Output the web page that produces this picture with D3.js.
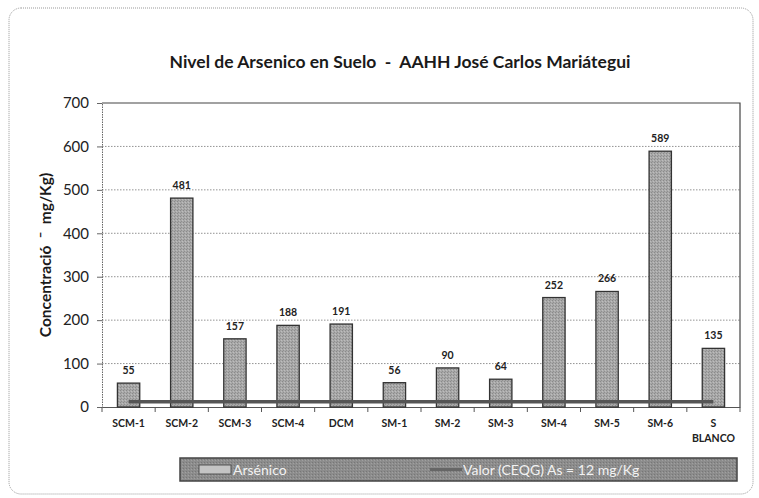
<!DOCTYPE html>
<html>
<head>
<meta charset="utf-8">
<script src="https://cdn.jsdelivr.net/npm/d3@7"></script>
<style>
  body { margin: 0; background: #fff; }
  text { font-family: Lato, "Open Sans", sans-serif; white-space: pre; }
</style>
</head>
<body>
<svg id="chart" width="759" height="498"></svg>
<script>
// muestras y concentraciones (mg/Kg)
let samples = ['SCM-1', 'SCM-2', 'SCM-3', 'SCM-4', 'DCM', 'SM-1', 'SM-2', 'SM-3', 'SM-4', 'SM-5', 'SM-6', 'S BLANCO'];
let arsenic = [55, 481, 157, 188, 191, 56, 90, 64, 252, 266, 589, 135];
let limitValue = 12;
let yTicks = [0, 100, 200, 300, 400, 500, 600, 700];

let svg = d3.select('#chart');

// outer dotted frame
svg.append('rect')
  .attr('x', 9).attr('y', 8).attr('width', 744).attr('height', 486)
  .attr('rx', 12)
  .attr('fill', 'none')
  .attr('stroke', '#999')
  .attr('stroke-dasharray', '1,1');

let x = d3.scaleBand()
  .domain(samples)
  .range([102, 740])
  .paddingInner(0.58)
  .paddingOuter(0.29);

let y = d3.scaleLinear()
  .domain([0, 700])
  .range([407, 103]);

// title
svg.append('text')
  .attr('x', 400).attr('y', 68)
  .attr('text-anchor', 'middle')
  .style('font-size', '17.5px')
  .style('font-weight', 'bold')
  .attr('fill', '#1a1a1a')
  .text('Nivel de Arsenico en Suelo  -  AAHH José Carlos Mariátegui');

// gridlines
svg.append('g').selectAll('line')
  .data(yTicks.filter(d => d > 0 && d < 700))
  .join('line')
  .attr('x1', 102).attr('x2', 740)
  .attr('y1', d => y(d)).attr('y2', d => y(d))
  .attr('stroke', '#777')
  .attr('stroke-width', 0.8)
  .attr('stroke-dasharray', '1.5,1.5');

// plot frame top + right
svg.append('path')
  .attr('d', `M102,${y(700)}H740V${y(0)}`)
  .attr('fill', 'none')
  .attr('stroke', '#444')
  .attr('stroke-width', 1.2);

// y axis
let yAxis = d3.axisLeft(y).tickValues(yTicks).tickSize(5).tickPadding(8);
let gy = svg.append('g').attr('transform', 'translate(102,0)').call(yAxis);
gy.select('.domain').attr('stroke', '#666').attr('stroke-dasharray', '1.5,1');
gy.selectAll('.tick line').attr('stroke', '#666');
gy.selectAll('.tick text')
  .style('font-size', '15px')
  .attr('fill', '#222');

// x axis
let xAxis = d3.axisBottom(x).tickSize(0).tickFormat('');
let gx = svg.append('g').attr('transform', `translate(0,${y(0)})`).call(xAxis);
gx.select('.domain').attr('stroke', '#555').attr('stroke-width', 1);
// tick marks between categories
svg.append('g').selectAll('line')
  .data(d3.range(samples.length + 1))
  .join('line')
  .attr('x1', i => 102 + i * x.step())
  .attr('x2', i => 102 + i * x.step())
  .attr('y1', y(0)).attr('y2', y(0) + 5)
  .attr('stroke', '#555');

// category labels
svg.append('g').selectAll('text')
  .data(samples)
  .join('text')
  .attr('x', d => x(d) + x.bandwidth() / 2)
  .attr('y', y(0) + 20)
  .attr('text-anchor', 'middle')
  .style('font-size', '10.5px')
  .style('font-weight', 'bold')
  .attr('fill', '#222')
  .each(function(d) {
    let parts = d.split(' ');
    let t = d3.select(this);
    parts.forEach((p, i) => {
      t.append('tspan')
        .attr('x', x(d) + x.bandwidth() / 2)
        .attr('dy', i == 0 ? 0 : 15)
        .text(p);
    });
  });

// y axis title
svg.append('text')
  .attr('transform', 'translate(51,255)rotate(-90)')
  .attr('text-anchor', 'middle')
  .style('font-size', '15.5px')
  .style('font-weight', 'bold')
  .attr('fill', '#1a1a1a')
  .text('Concentració  \u02C9  mg/Kg)');

// texture pattern
let defs = svg.append('defs');
let pat = defs.append('pattern')
  .attr('id', 'grain')
  .attr('width', 3).attr('height', 3)
  .attr('patternUnits', 'userSpaceOnUse');
pat.append('rect').attr('width', 3).attr('height', 3).attr('fill', '#a8a8a8');
pat.append('rect').attr('x', 0).attr('y', 0).attr('width', 1).attr('height', 1).attr('fill', '#8a8a8a');
pat.append('rect').attr('x', 2).attr('y', 1).attr('width', 1).attr('height', 1).attr('fill', '#bdbdbd');
pat.append('rect').attr('x', 1).attr('y', 2).attr('width', 1).attr('height', 1).attr('fill', '#909090');

let pat2 = defs.append('pattern')
  .attr('id', 'grainDark')
  .attr('width', 3).attr('height', 3)
  .attr('patternUnits', 'userSpaceOnUse');
pat2.append('rect').attr('width', 3).attr('height', 3).attr('fill', '#8c8c8c');
pat2.append('rect').attr('x', 0).attr('y', 0).attr('width', 1).attr('height', 1).attr('fill', '#777');
pat2.append('rect').attr('x', 2).attr('y', 1).attr('width', 1).attr('height', 1).attr('fill', '#a0a0a0');

// bars
svg.append('g').selectAll('rect')
  .data(arsenic)
  .join('rect')
  .attr('x', (d, i) => x(samples[i]))
  .attr('y', d => y(d))
  .attr('width', x.bandwidth())
  .attr('height', d => y(0) - y(d))
  .attr('fill', 'url(#grain)')
  .attr('stroke', '#333')
  .attr('stroke-width', 1.3);

// value labels
svg.append('g').selectAll('text')
  .data(arsenic)
  .join('text')
  .attr('x', (d, i) => x(samples[i]) + x.bandwidth() / 2)
  .attr('y', d => y(d) - 9)
  .attr('text-anchor', 'middle')
  .style('font-size', '10.5px')
  .style('font-weight', 'bold')
  .attr('fill', '#222')
  .text(d => d);

// limit line (CEQG)
let lineFn = d3.line()
  .x(d => x(d) + x.bandwidth() / 2)
  .y(() => y(limitValue));
svg.append('path')
  .attr('d', lineFn(samples))
  .attr('fill', 'none')
  .attr('stroke', '#555')
  .attr('stroke-width', 3.5);

// legend
let leg = svg.append('g');
leg.append('rect')
  .attr('x', 180).attr('y', 458).attr('width', 557).attr('height', 23)
  .attr('fill', 'url(#grainDark)')
  .attr('stroke', '#444')
  .attr('stroke-width', 1.5);
leg.append('rect')
  .attr('x', 199).attr('y', 465).attr('width', 32).attr('height', 9)
  .attr('fill', '#c4c4c4')
  .attr('stroke', '#555');
leg.append('text')
  .attr('x', 233).attr('y', 474.5)
  .style('font-size', '14px')
  .attr('fill', '#f2f2f2')
  .text('Arsénico');
leg.append('line')
  .attr('x1', 430).attr('x2', 462)
  .attr('y1', 469.5).attr('y2', 469.5)
  .attr('stroke', '#666')
  .attr('stroke-width', 3);
leg.append('text')
  .attr('x', 463).attr('y', 474.5)
  .style('font-size', '14px')
  .attr('fill', '#f2f2f2')
  .text('Valor (CEQG) As = 12 mg/Kg');
</script>
</body>
</html>
